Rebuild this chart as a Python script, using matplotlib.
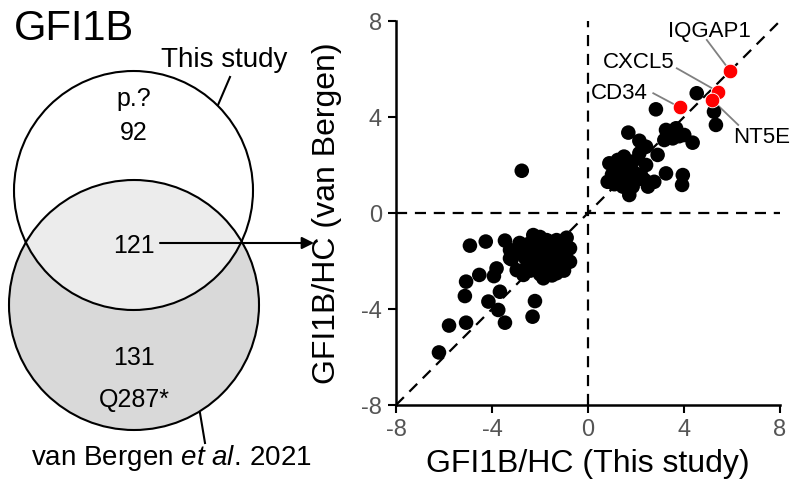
import matplotlib
matplotlib.use("Agg")
import matplotlib.pyplot as plt
from matplotlib.patches import Circle

plt.rcParams["font.family"] = ["Liberation Sans", "DejaVu Sans"]
plt.rcParams["axes.unicode_minus"] = False
plt.rcParams["mathtext.fontset"] = "custom"
plt.rcParams["mathtext.rm"] = "Liberation Sans"
plt.rcParams["mathtext.it"] = "Liberation Sans:italic"

# Venn counts
venn_counts = [92, 121, 131]          # this study only, shared, van Bergen only
venn_tags = ["p.?", "Q287*"]

# shared genes: log ratios (this study, van Bergen)
bg_x = [2.83, 4.53, 5.25, 5.33, 1.68, 2.14, 2.42, 2.14, 2.42, 2.90,
        3.25, 3.67, 3.18, 3.53, 4.01, 4.36, 3.45, 3.80, 3.25, 3.95,
        3.92, 0.89, 1.24, 1.58, 1.86, 0.82, 1.17, 1.58, 2.00, 2.35,
        2.76, 1.45, 1.72, 1.86, 1.17, 1.35, 1.00, 1.90, 2.20, 1.50,
        1.10, 2.50, -2.76,
        -4.92, -4.26, -3.46, -2.28, -0.89, -5.08, -4.53, -5.13, -3.81, -3.92,
        -3.67, -4.15, -3.74, -3.46, -5.08, -5.79, -6.21, -2.21, -2.31, -3.18,
        -2.97, -2.69, -3.25, -3.25, -1.72, -1.31, -0.75, -0.75, -1.31, -1.86,
        -2.56, -2.50, -2.30, -2.00, -1.80, -1.50, -1.20, -1.00, -2.60, -2.20,
        -1.90, -1.60, -1.30, -1.00, -2.00, -2.70, -1.60, -1.10, -2.40, -1.70,
        -2.10, -1.40, -0.90, -2.85, -3.05, -1.50, -2.00]
bg_y = [4.32, 4.99, 4.22, 3.67, 3.35, 3.01, 2.76, 2.49, 2.00, 2.42,
        3.46, 3.53, 3.04, 3.11, 3.25, 2.93, 3.30, 3.20, 1.65, 1.58,
        1.17, 2.07, 2.21, 1.93, 2.14, 1.30, 1.45, 1.51, 1.38, 1.38,
        1.30, 1.10, 0.75, 1.10, 1.79, 1.70, 1.60, 1.70, 1.60, 2.35,
        1.20, 1.10, 1.76,
        -1.36, -1.19, -1.15, -0.92, -1.03, -2.86, -2.58, -3.46, -2.31, -2.63,
        -3.28, -3.69, -4.04, -4.57, -4.57, -4.69, -5.81, -3.67, -4.32, -1.93,
        -2.38, -2.58, -1.89, -1.54, -1.13, -1.13, -1.47, -2.03, -2.51, -2.72,
        -2.31, -1.30, -1.60, -1.40, -1.80, -1.50, -1.80, -1.30, -1.90, -2.10,
        -2.30, -2.10, -2.20, -2.40, -1.00, -1.60, -1.20, -1.60, -2.40, -1.60,
        -1.80, -1.90, -1.90, -1.25, -1.70, -2.60, -2.55]

hl_names = ["IQGAP1", "CXCL5", "NT5E", "CD34"]
hl_x = [5.92, 5.43, 5.18, 3.83]
hl_y = [5.92, 5.05, 4.71, 4.40]
# label text anchor (center, baseline) and leader line start
lab_x = [5.08, 2.13, 7.25, 1.29]
lab_y = [7.32, 6.03, 2.90, 4.74]
lead_x = [4.95, 3.70, 6.26, 2.72]
lead_y = [7.21, 6.03, 3.67, 4.99]

ticks = [-8, -4, 0, 4, 8]

fig = plt.figure(figsize=(8.03, 4.86), dpi=100)

# ---- Venn panel (pixel coordinates) ----
vax = fig.add_axes([0, 0, 1, 1])
vax.set_xlim(0, 803)
vax.set_ylim(486, 0)
vax.axis("off")

top = Circle((133.5, 190.5), 119.5, facecolor="white", edgecolor="none")
bot = Circle((134, 305), 125, facecolor="#d9d9d9", edgecolor="none")
vax.add_patch(top)
vax.add_patch(bot)
inter = Circle((133.5, 190.5), 119.5, facecolor="#ececec", edgecolor="none")
vax.add_patch(inter)
inter.set_clip_path(bot)
vax.add_patch(Circle((133.5, 190.5), 119.5, fill=False, edgecolor="black", lw=1.5))
vax.add_patch(Circle((134, 305), 125, fill=False, edgecolor="black", lw=1.5))

vax.text(14, 40, "GFI1B", fontsize=30, ha="left", va="baseline")
vax.text(224, 67, "This study", fontsize=20, ha="center", va="baseline")
vax.plot([230, 218], [77, 105], color="black", lw=1.5)
vax.text(134, 106, venn_tags[0], fontsize=18, ha="center", va="baseline")
vax.text(134, 140, str(venn_counts[0]), fontsize=18, ha="center", va="baseline")
vax.text(134, 253, str(venn_counts[1]), fontsize=18, ha="center", va="baseline")
vax.text(134, 365, str(venn_counts[2]), fontsize=18, ha="center", va="baseline")
vax.text(134, 407, venn_tags[1], fontsize=18, ha="center", va="baseline")
vax.plot([200, 205], [413, 443], color="black", lw=1.5)
vax.text(171, 465, r"van Bergen $\mathit{et\ al.}\,$2021", fontsize=20,
         ha="center", va="baseline")
vax.annotate("", xy=(314, 243), xytext=(160, 243),
             arrowprops=dict(arrowstyle="-|>", color="black", lw=1.5,
                             mutation_scale=18, shrinkA=0, shrinkB=0))

# ---- scatter panel ----
ax = fig.add_axes([396 / 803, 1 - 405 / 486, 384 / 803, 384 / 486])
ax.set_xlim(-8, 8)
ax.set_ylim(-8, 8)
ax.patch.set_alpha(0)

dash = (0, (5, 3.5))
ax.axvline(0, color="black", lw=1.6, ls=dash, zorder=1)
ax.axhline(0, color="black", lw=1.6, ls=dash, zorder=1)
ax.plot([-8, 8], [-8, 8], color="black", lw=1.6, ls=dash, zorder=1)

ax.scatter(bg_x, bg_y, s=110, color="black", edgecolors="none", zorder=3)

for i in range(len(hl_names)):
    ax.plot([lead_x[i], hl_x[i]], [lead_y[i], hl_y[i]], color="#808080",
            lw=1.3, zorder=2, clip_on=False)
    ax.text(lab_x[i], lab_y[i], hl_names[i], fontsize=16, ha="center",
            va="baseline", clip_on=False)
ax.scatter(hl_x, hl_y, s=110, color="#ff0000", edgecolors="white",
           linewidths=0.6, zorder=4)

ax.set_xticks(ticks)
ax.set_yticks(ticks)
ax.tick_params(labelsize=17, labelcolor="#555555", length=6, width=1.5,
               pad=4, direction="out")
for s in ["top", "right"]:
    ax.spines[s].set_visible(False)
for s in ["left", "bottom"]:
    ax.spines[s].set_linewidth(1.8)

ax.set_xlabel("GFI1B/HC (This study)", fontsize=23)
ax.set_ylabel("GFI1B/HC (van Bergen)", fontsize=23)
ax.xaxis.set_label_coords(0.5, -0.115)
ax.yaxis.set_label_coords(-0.14, 0.5)

fig.savefig("out.png", dpi=100)
